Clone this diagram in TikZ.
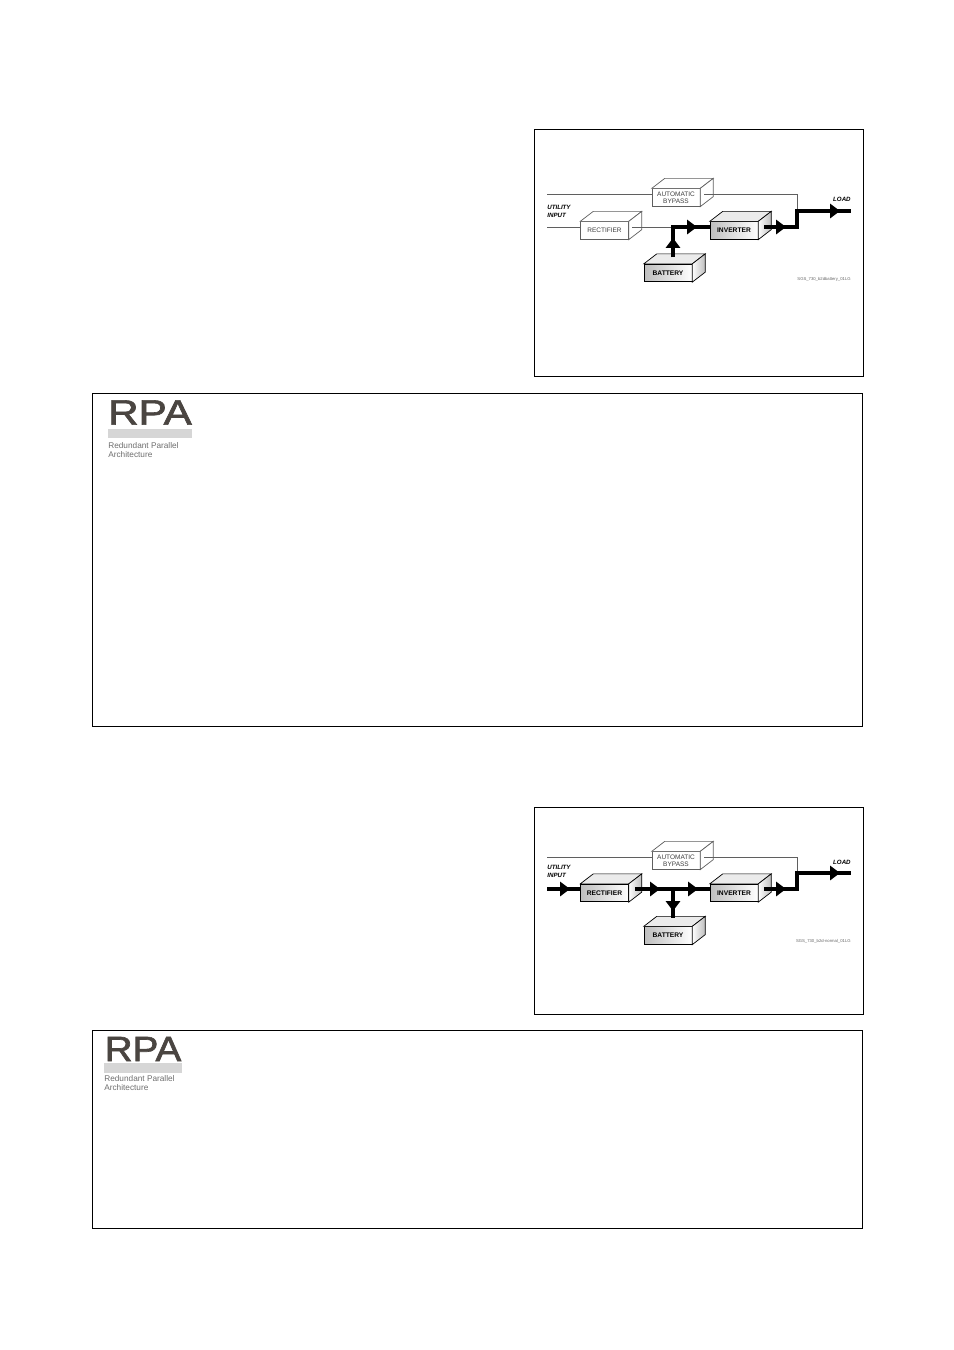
\documentclass[tikz,border=0pt]{standalone}
\usepackage{fontspec}
\setmainfont{Liberation Sans}
\newfontfamily\logofont[FakeBold=1.8]{Liberation Sans}
\usetikzlibrary{arrows.meta,positioning,calc}
\definecolor{rpagray}{RGB}{74,69,65}
\definecolor{rpabar}{RGB}{214,214,214}
\definecolor{rpatext}{RGB}{110,110,110}
\definecolor{idleline}{RGB}{95,95,95}
\definecolor{liveface}{RGB}{190,190,190}

\begin{document}
\begin{tikzpicture}[
    x=0.02cm, y=-0.02cm,
    framebox/.style={draw=black, line width=0.55pt, inner sep=0pt},
    unitbox/.style={rectangle, draw=idleline, line width=0.4pt, fill=white, minimum width=27.2pt,
      minimum height=10pt, inner sep=0pt, align=center, text=black!75,
      font=\fontsize{3.7}{3.9}\selectfont},
    livebox/.style={unitbox, draw=black, left color=liveface, right color=white, text=black,
      font=\fontsize{3.8}{3.9}\selectfont\bfseries},
    idleface/.style={draw=idleline, line width=0.4pt, fill=white},
    livetop/.style={draw=black, line width=0.4pt, fill=black!8},
    liveside/.style={draw=black, line width=0.4pt, left color=white, right color=liveface},
    thinline/.style={draw=idleline, line width=0.4pt},
    powerline/.style={draw=black, line width=2.3pt},
    powertip/.style={powerline, -{Triangle[length=5.6pt,width=8pt]}},
    smalllabel/.style={font=\fontsize{3.5}{4.5}\selectfont\bfseries\itshape, align=left, inner sep=0pt},
    codelabel/.style={font=\fontsize{2.4}{3}\selectfont, text=black!60, inner sep=0pt},
    logomark/.style={font=\fontsize{20}{22}\logofont\selectfont, text=rpagray, inner sep=0pt},
    logotext/.style={font=\fontsize{4.7}{5.4}\selectfont, text=rpatext, align=left, inner sep=0pt}
  ]
    \useasboundingbox (0,0) rectangle (954,1350);

    % Frames
    \node[framebox, minimum width=187.4pt, minimum height=141pt] (frameA) at (698.8,253) {};
    \node[framebox, minimum width=438.6pt, minimum height=189.8pt] (frameB) at (477.3,560) {};
    \node[framebox, minimum width=187.4pt, minimum height=117.8pt] (frameC) at (698.8,910.5) {};
    \node[framebox, minimum width=438.6pt, minimum height=113.2pt] (frameD) at (477.3,1129.5) {};

    % Logos
    \node[logomark, xscale=1.2] (rpaA) at (150,412.5) {RPA};
    \fill[rpabar] (108,429) rectangle (192,438);
    \node[logotext, anchor=north west] (subA) at (108,442) {Redundant Parallel\\Architecture};
    \node[logomark, xscale=1.1] (rpaB) at (143,1049) {RPA};
    \fill[rpabar] (104,1063) rectangle (182,1073);
    \node[logotext, anchor=north west] (subB) at (104,1075) {Redundant Parallel\\Architecture};

    % Upper diagram
    \node[unitbox] (bypA) at (676,197.5) {AUTOMATIC\\BYPASS};
    \node[unitbox] (rectA) at (604.5,230.5) {RECTIFIER};
    \node[livebox] (invA) at (734,230.5) {INVERTER};
    \node[livebox] (batA) at (668,273) {BATTERY};

    % Lower diagram
    \node[unitbox] (bypB) at (676,860.5) {AUTOMATIC\\BYPASS};
    \node[livebox] (rectB) at (604.5,893) {RECTIFIER};
    \node[livebox] (invB) at (734,893) {INVERTER};
    \node[livebox] (batB) at (668,935.5) {BATTERY};

    % Box depth
    \foreach \n in {bypA,rectA,bypB} {
      \draw[idleface] (\n.north west) -- ++(13,-10) -- ($(\n.north east)+(13,-10)$) -- (\n.north east) -- cycle;
      \draw[idleface] (\n.north east) -- ++(13,-10) -- ($(\n.south east)+(13,-10)$) -- (\n.south east) -- cycle;
    }
    \foreach \n in {invA,batA,rectB,invB,batB} {
      \draw[livetop] (\n.north west) -- ++(13,-10) -- ($(\n.north east)+(13,-10)$) -- (\n.north east) -- cycle;
      \draw[liveside] (\n.north east) -- ++(13,-10) -- ($(\n.south east)+(13,-10)$) -- (\n.south east) -- cycle;
    }

    % Upper connectors
    \coordinate (inA) at (547,194);
    \coordinate (supplyA) at (547,227);
    \coordinate (bypoutA) at (704,194);
    \coordinate (bendA) at (797,194);
    \coordinate (stepA) at (797,211);
    \coordinate (rectoutA) at (632,227);
    \coordinate (joinA) at (673,227);
    \coordinate (batoutA) at (673,257);
    \coordinate (uptipA) at (673,238);
    \coordinate (tipA) at (697,227);
    \coordinate (invoutA) at (764,227);
    \coordinate (tipB) at (786,227);
    \coordinate (cornerA) at (797,227);
    \coordinate (tipC) at (840,211);
    \coordinate (loadA) at (851,211);
    \draw[thinline] (inA) -- (bypA.west |- inA);
    \draw[thinline] (bypoutA) -- (bendA) -- (stepA);
    \draw[thinline] (supplyA) -- (rectA.west |- supplyA);
    \draw[thinline] (rectoutA) -- (joinA);
    \draw[powerline] (batoutA) -- (joinA) -- (invA.west |- joinA);
    \draw[powertip] (batoutA) -- (uptipA);
    \draw[powertip] (joinA) -- (tipA);
    \draw[powerline] (invoutA) -- (cornerA) -- (stepA) -- (loadA);
    \draw[powertip] (invoutA) -- (tipB);
    \draw[powertip] (stepA) -- (tipC);

    % Lower connectors
    \coordinate (inB) at (547,857);
    \coordinate (supplyB) at (547,889);
    \coordinate (bypoutB) at (704,857);
    \coordinate (bendB) at (797,857);
    \coordinate (stepB) at (797,873);
    \coordinate (tipD) at (570,889);
    \coordinate (rectoutB) at (635,889);
    \coordinate (tipE) at (660,889);
    \coordinate (joinB) at (673,889);
    \coordinate (tipF) at (698,889);
    \coordinate (downtipB) at (673,911);
    \coordinate (batinB) at (673,918);
    \coordinate (invoutB) at (764,889);
    \coordinate (tipG) at (786,889);
    \coordinate (cornerB) at (797,889);
    \coordinate (tipH) at (840,873);
    \coordinate (loadB) at (851,873);
    \draw[thinline] (inB) -- (bypB.west |- inB);
    \draw[thinline] (bypoutB) -- (bendB) -- (stepB);
    \draw[powerline] (supplyB) -- (rectB.west |- supplyB);
    \draw[powertip] (supplyB) -- (tipD);
    \draw[powerline] (rectoutB) -- (invB.west |- rectoutB);
    \draw[powertip] (rectoutB) -- (tipE);
    \draw[powertip] (joinB) -- (tipF);
    \draw[powerline] (joinB) -- (batinB);
    \draw[powertip] (joinB) -- (downtipB);
    \draw[powerline] (invoutB) -- (cornerB) -- (stepB) -- (loadB);
    \draw[powertip] (invoutB) -- (tipG);
    \draw[powertip] (stepB) -- (tipH);

    % Labels
    \node[smalllabel, anchor=west] (utilA) at (547,211) {UTILITY\\INPUT};
    \node[smalllabel, anchor=east] (loadtextA) at (851,199) {LOAD};
    \node[codelabel, anchor=east] (codeA) at (851,279) {SGS\_730\_b2dbattery\_01LG};
    \node[smalllabel, anchor=west] (utilB) at (547,871) {UTILITY\\INPUT};
    \node[smalllabel, anchor=east] (loadtextB) at (851,862) {LOAD};
    \node[codelabel, anchor=east] (codeB) at (851,941) {SGS\_730\_b2d-normal\_01LG};
  \end{tikzpicture}
\end{document}
